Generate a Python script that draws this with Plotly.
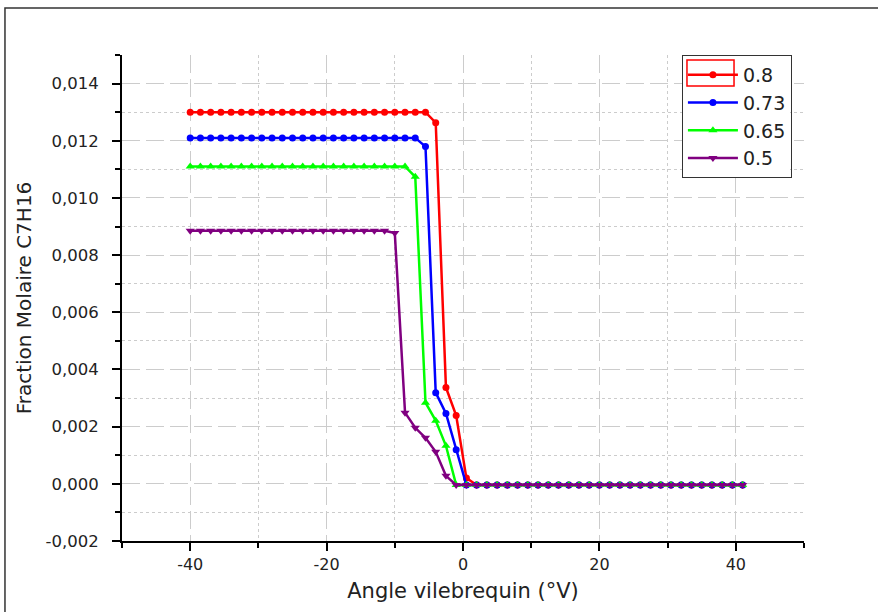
import plotly.graph_objects as go

# ---- data ----
angle = [-40, -38.5, -37, -35.5, -34, -32.5, -31, -29.5, -28, -26.5,
         -25, -23.5, -22, -20.5, -19, -17.5, -16, -14.5, -13, -11.5,
         -10, -8.5, -7, -5.5, -4, -2.5, -1, 0.5, 2, 3.5,
         5, 6.5, 8, 9.5, 11, 12.5, 14, 15.5, 17, 18.5,
         20, 21.5, 23, 24.5, 26, 27.5, 29, 30.5, 32, 33.5,
         35, 36.5, 38, 39.5, 41]

s_08 = [0.0130, 0.0130, 0.0130, 0.0130, 0.0130, 0.0130, 0.0130, 0.0130, 0.0130, 0.0130,
        0.0130, 0.0130, 0.0130, 0.0130, 0.0130, 0.0130, 0.0130, 0.0130, 0.0130, 0.0130,
        0.0130, 0.0130, 0.0130, 0.0130, 0.01263, 0.00337, 0.00239, 0.0002, -0.00004, -0.00004,
        -0.00004, -0.00004, -0.00004, -0.00004, -0.00004, -0.00004, -0.00004, -0.00004, -0.00004, -0.00004,
        -0.00004, -0.00004, -0.00004, -0.00004, -0.00004, -0.00004, -0.00004, -0.00004, -0.00004, -0.00004,
        -0.00004, -0.00004, -0.00004, -0.00004, -0.00004]

s_073 = [0.0121, 0.0121, 0.0121, 0.0121, 0.0121, 0.0121, 0.0121, 0.0121, 0.0121, 0.0121,
         0.0121, 0.0121, 0.0121, 0.0121, 0.0121, 0.0121, 0.0121, 0.0121, 0.0121, 0.0121,
         0.0121, 0.0121, 0.0121, 0.0118, 0.00319, 0.00246, 0.00119, -0.00004, -0.00004, -0.00004,
         -0.00004, -0.00004, -0.00004, -0.00004, -0.00004, -0.00004, -0.00004, -0.00004, -0.00004, -0.00004,
         -0.00004, -0.00004, -0.00004, -0.00004, -0.00004, -0.00004, -0.00004, -0.00004, -0.00004, -0.00004,
         -0.00004, -0.00004, -0.00004, -0.00004, -0.00004]

s_065 = [0.0111, 0.0111, 0.0111, 0.0111, 0.0111, 0.0111, 0.0111, 0.0111, 0.0111, 0.0111,
         0.0111, 0.0111, 0.0111, 0.0111, 0.0111, 0.0111, 0.0111, 0.0111, 0.0111, 0.0111,
         0.0111, 0.0111, 0.01074, 0.00284, 0.00221, 0.00133, -0.00004, -0.00004, -0.00004, -0.00004,
         -0.00004, -0.00004, -0.00004, -0.00004, -0.00004, -0.00004, -0.00004, -0.00004, -0.00004, -0.00004,
         -0.00004, -0.00004, -0.00004, -0.00004, -0.00004, -0.00004, -0.00004, -0.00004, -0.00004, -0.00004,
         -0.00004, -0.00004, -0.00004, -0.00004, -0.00004]

s_05 = [0.00885, 0.00885, 0.00885, 0.00885, 0.00885, 0.00885, 0.00885, 0.00885, 0.00885, 0.00885,
        0.00885, 0.00885, 0.00885, 0.00885, 0.00885, 0.00885, 0.00885, 0.00885, 0.00885, 0.00885,
        0.00877, 0.00249, 0.00196, 0.00161, 0.00112, 0.00028, -0.00004, -0.00004, -0.00004, -0.00004,
        -0.00004, -0.00004, -0.00004, -0.00004, -0.00004, -0.00004, -0.00004, -0.00004, -0.00004, -0.00004,
        -0.00004, -0.00004, -0.00004, -0.00004, -0.00004, -0.00004, -0.00004, -0.00004, -0.00004, -0.00004,
        -0.00004, -0.00004, -0.00004, -0.00004, -0.00004]

series_names = ["0.8", "0.73", "0.65", "0.5"]
x_tickvals = [-40, -20, 0, 20, 40]
x_ticktext = ["-40", "-20", "0", "20", "40"]
y_tickvals = [-0.002, 0.0, 0.002, 0.004, 0.006, 0.008, 0.010, 0.012, 0.014]
y_ticktext = ["-0,002", "0,000", "0,002", "0,004", "0,006", "0,008", "0,010", "0,012", "0,014"]

# ---- styling ----
colors = ["#ff0000", "#0000ff", "#00ff00", "#800080"]
symbols = ["circle", "circle", "triangle-up", "triangle-down"]
sizes = [7, 7, 8, 8]
data = [s_08, s_073, s_065, s_05]

fig = go.Figure()
for name, ys, c, sym, sz in zip(series_names, data, colors, symbols, sizes):
    fig.add_trace(go.Scatter(
        x=angle, y=ys, name=name, mode="lines+markers",
        line=dict(color=c, width=2.5),
        marker=dict(color=c, symbol=sym, size=sz),
    ))

font_family = "DejaVu Sans, Verdana, sans-serif"
fig.update_layout(
    width=878, height=612,
    margin=dict(l=122, r=74, t=55, b=71),
    paper_bgcolor="white", plot_bgcolor="white",
    font=dict(family=font_family, color="#222222"),
    showlegend=True,
    legend=dict(
        x=0.821, y=1.0, xanchor="left", yanchor="top",
        bordercolor="#333333", borderwidth=1, bgcolor="rgba(0,0,0,0)",
        font=dict(size=19, family=font_family, color="#222222"),
        itemwidth=50, tracegroupgap=0,
    ),
    xaxis=dict(
        range=[-50, 50], tickvals=x_tickvals, ticktext=x_ticktext,
        ticks="outside", ticklen=8, tickwidth=2, tickcolor="black",
        showline=True, linecolor="black", linewidth=2, mirror=False,
        zeroline=False,
        showgrid=True, gridcolor="#cccccc", gridwidth=1, griddash="18px,6px",
        minor=dict(tickvals=[-50, -30, -10, 10, 30, 50], ticks="outside", ticklen=5,
                   tickwidth=2, tickcolor="black", showgrid=True,
                   gridcolor="#cccccc", gridwidth=1, griddash="3px,3px"),
        tickfont=dict(size=16, color="#222222"),
        title=dict(text="Angle vilebrequin (°V)", font=dict(size=21, color="#222222"), standoff=10),
    ),
    yaxis=dict(
        range=[-0.002, 0.015], tickvals=y_tickvals, ticktext=y_ticktext,
        ticks="outside", ticklen=8, tickwidth=2, tickcolor="black",
        ticklabelstandoff=10,
        showline=True, linecolor="black", linewidth=2, mirror=False,
        zeroline=False,
        showgrid=True, gridcolor="#cccccc", gridwidth=1, griddash="18px,6px",
        minor=dict(tickvals=[-0.001, 0.001, 0.003, 0.005, 0.007, 0.009, 0.011, 0.013, 0.015],
                   ticks="outside", ticklen=5, tickwidth=2, tickcolor="black", showgrid=True,
                   gridcolor="#cccccc", gridwidth=1, griddash="3px,3px"),
        tickfont=dict(size=16.5, color="#222222"),
        title=dict(text="Fraction Molaire C7H16", font=dict(size=20, color="#222222"), standoff=8),
    ),
)

# outer frame of the picture
fig.add_shape(type="rect", xref="paper", yref="paper",
              x0=-0.1716, x1=1.12, y0=-0.16, y1=1.0967,
              line=dict(color="#333333", width=1.5), layer="below")
# white backing of the legend box (drawn above the grid)
fig.add_shape(type="rect", xref="paper", yref="paper",
              x0=0.8211, x1=0.9795, y0=0.749, y1=1.0,
              fillcolor="white", line=dict(width=0), layer="above")
# selection box around the first legend sample
fig.add_shape(type="rect", xref="paper", yref="paper",
              x0=0.8284, x1=0.8974, y0=0.9362, y1=0.9897,
              line=dict(color="#ff0000", width=1.5), layer="above")

fig.write_html("out.html")
